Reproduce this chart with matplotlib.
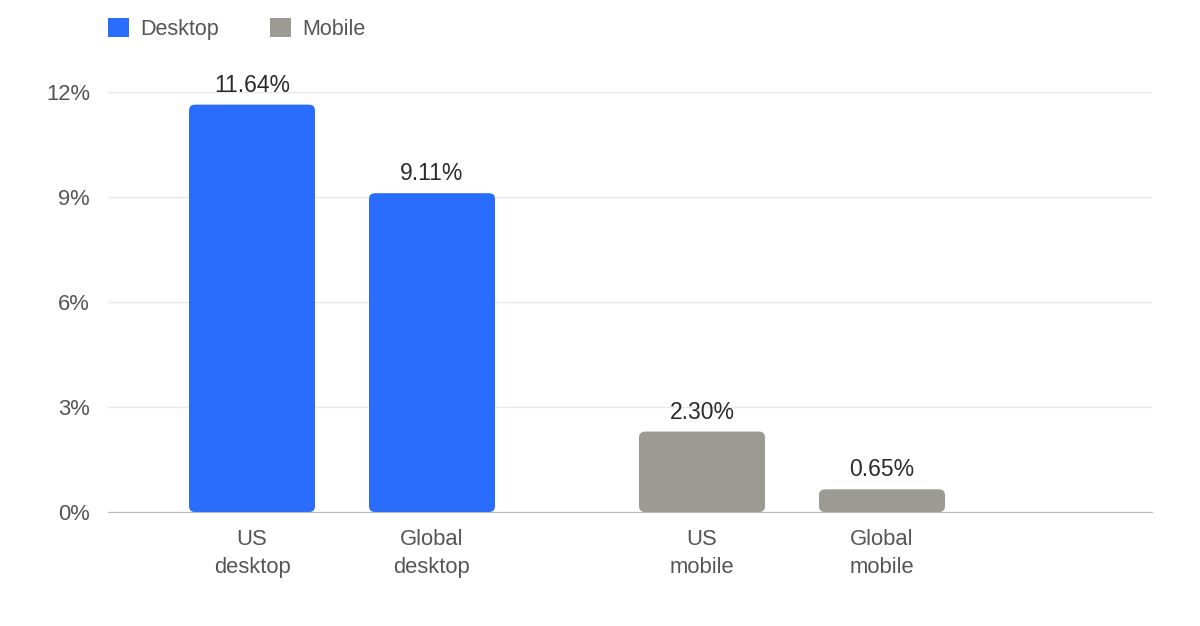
import matplotlib.pyplot as plt
from matplotlib.patches import FancyBboxPatch, Patch

plt.rcParams['font.family'] = ['Liberation Sans', 'DejaVu Sans']

categories = ["US\ndesktop", "Global\ndesktop", "US\nmobile", "Global\nmobile"]
values = [11.64, 9.11, 2.30, 0.65]
groups = ["Desktop", "Desktop", "Mobile", "Mobile"]
positions = [0, 1, 2.5, 3.5]
yticks = [0, 3, 6, 9, 12]

colors = {"Desktop": "#2a6cfb", "Mobile": "#9b9a93"}

fig = plt.figure(figsize=(12, 6.26), dpi=100)
ax = fig.add_axes([0.09, 0.182, 0.87, 0.671])
ax.set_xlim(-0.8, 5.0)
ax.set_ylim(0, 12)

bars = ax.bar(positions, values, width=0.7, color=[colors[g] for g in groups])

# swap plain rectangles for slightly rounded ones
fig.canvas.draw()
bb = ax.get_window_extent()
px_x = bb.width / 5.8
px_y = bb.height / 12
for b, g in zip(bars, groups):
    x, y = b.get_x(), b.get_y()
    w, h = b.get_width(), b.get_height()
    b.remove()
    r = 6 / px_x
    ax.add_patch(FancyBboxPatch((x, y), w, h,
                                boxstyle=f"round,pad=0,rounding_size={r}",
                                mutation_aspect=px_x / px_y,
                                facecolor=colors[g], edgecolor="none", zorder=2))

for p, v in zip(positions, values):
    ax.text(p, v + 13 / px_y, f"{v:.2f}%", ha="center", va="baseline",
            fontsize=16.5, color="#2b2b2b", clip_on=False)

ax.set_yticks(yticks)
ax.set_yticklabels([f"{t}%" for t in yticks])
ax.set_xticks(positions)
ax.set_xticklabels(categories, linespacing=1.45)
ax.tick_params(axis="both", length=0, labelsize=15.8, labelcolor="#555555")
ax.tick_params(axis="y", pad=13)
ax.tick_params(axis="x", pad=12)

ax.grid(axis="y", color="#e8e8e8", linewidth=1)
ax.set_axisbelow(True)
for s in ["top", "right", "left"]:
    ax.spines[s].set_visible(False)
ax.spines["bottom"].set_color("#bbbbbb")
ax.spines["bottom"].set_zorder(3)

handles = [Patch(facecolor=colors["Desktop"], label="Desktop"),
           Patch(facecolor=colors["Mobile"], label="Mobile")]
leg = fig.legend(handles=handles, loc="upper left", bbox_to_anchor=(0.0828, 1 - 9 / 626),
                 ncol=2, frameon=False, fontsize=15.5, handlelength=1.0,
                 handleheight=1.0, handletextpad=0.5, columnspacing=2.35,
                 borderaxespad=0, borderpad=0.4)
for t in leg.get_texts():
    t.set_color("#555555")

fig.savefig("out.png", dpi=100)
